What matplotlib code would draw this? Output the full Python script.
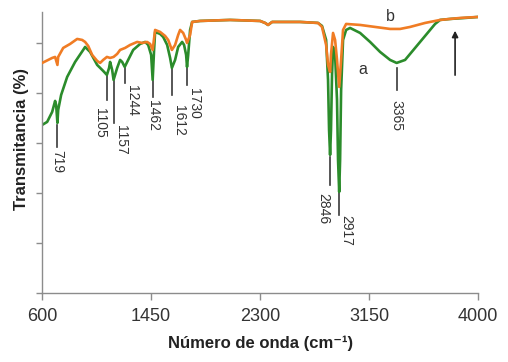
import matplotlib
matplotlib.use("Agg")
import matplotlib.pyplot as plt
import numpy as np

plt.rcParams['font.family'] = ['Liberation Sans', 'DejaVu Sans']

# curve a (green)
wn_a = [600, 639, 678, 701, 709, 719, 725, 748, 795, 857, 920, 935, 974, 1029,
        1076, 1105, 1122, 1130, 1146, 1157, 1185, 1208, 1224, 1244, 1263, 1310,
        1364, 1403, 1427, 1450, 1462, 1473, 1481, 1520, 1544, 1575, 1598, 1612,
        1637, 1661, 1692, 1707, 1723, 1730, 1739, 1754, 1770, 1832, 2066, 2300,
        2339, 2362, 2394, 2612, 2752, 2783, 2815, 2830, 2838, 2846, 2853, 2861,
        2869, 2885, 2900, 2908, 2917, 2924, 2932, 2947, 2971, 3002, 3080, 3158,
        3236, 3314, 3365, 3431, 3509, 3587, 3665, 3704, 3782, 3899, 4000]
t_a = [67.2, 68.4, 72.4, 76.8, 75.2, 68.0, 73.2, 79.2, 86.4, 92.4, 97.2, 98.4,
       96.4, 91.2, 88.8, 87.2, 90.0, 92.4, 89.2, 85.2, 90.0, 93.2, 92.4, 90.4,
       92.4, 97.2, 99.6, 100.4, 99.2, 95.2, 85.2, 97.2, 104.4, 103.6, 102.4,
       99.2, 94.0, 90.0, 93.2, 98.4, 100.4, 99.2, 95.2, 90.4, 95.2, 105.2, 108.4,
       108.8, 109.2, 108.8, 108.0, 107.2, 108.4, 108.4, 108.0, 106.8, 101.2,
       85.2, 65.2, 55.2, 65.2, 87.2, 98.4, 95.2, 77.2, 53.2, 40.4, 53.2, 81.2,
       101.2, 105.2, 106.0, 104.0, 100.4, 96.4, 93.2, 92.0, 93.2, 98.0, 102.8,
       107.6, 109.2, 109.6, 110.0, 110.4]

# curve b (orange)
wn_b = [600, 647, 678, 701, 719, 725, 764, 818, 873, 912, 935, 959, 990, 1029,
        1052, 1076, 1105, 1130, 1157, 1185, 1208, 1247, 1286, 1341, 1380, 1419,
        1442, 1462, 1481, 1520, 1559, 1583, 1612, 1637, 1661, 1676, 1700, 1723,
        1730, 1754, 1770, 1832, 2066, 2300, 2339, 2362, 2394, 2612, 2752, 2783,
        2815, 2830, 2846, 2853, 2869, 2885, 2900, 2917, 2932, 2947, 2971, 3080,
        3197, 3314, 3392, 3470, 3587, 3704, 3860, 4000]
t_b = [92.0, 93.2, 94.0, 94.4, 91.2, 94.4, 98.0, 99.6, 101.6, 101.2, 100.4,
       98.8, 95.2, 92.8, 92.0, 93.2, 94.4, 94.0, 94.4, 95.6, 97.2, 98.0, 99.2,
       100.4, 100.0, 100.4, 99.6, 97.2, 105.2, 104.4, 102.8, 101.2, 97.2, 99.2,
       103.2, 105.2, 104.0, 101.2, 100.0, 103.2, 108.4, 108.8, 109.2, 108.8,
       108.0, 107.2, 108.4, 108.4, 108.0, 106.4, 99.2, 91.2, 88.4, 95.2, 104.0,
       101.2, 93.2, 82.4, 93.2, 105.2, 107.6, 107.2, 106.4, 105.6, 105.6, 106.4,
       108.0, 109.2, 110.0, 110.4]

# peak labels
peaks = [719, 1105, 1157, 1244, 1462, 1612, 1730, 2846, 2917, 3365]
line_top = [67.2, 86.8, 84.8, 90.0, 84.8, 89.6, 90.0, 54.4, 40.4, 90.0]
line_bot = [58.4, 77.2, 68.0, 84.0, 78.4, 79.2, 83.2, 43.2, 31.2, 81.2]
text_top = [57.0, 74.0, 67.0, 83.0, 77.0, 75.0, 82.0, 40.0, 31.0, 77.0]
text_ha = ['center', 'right', 'left', 'left', 'center', 'left', 'left',
           'right', 'left', 'center']

green = '#2b8c2b'
orange = '#f07c24'
grey = '#8c8c8c'

fig = plt.figure(figsize=(5.08, 3.62), dpi=100)
ax = fig.add_axes([0.083, 0.191, 0.858, 0.776])

ax.plot(wn_a, t_a, color=green, lw=1.9, zorder=2)
ax.plot(wn_b, t_b, color=orange, lw=1.9, zorder=3)

for p, y0, y1, ty, ha in zip(peaks, line_top, line_bot, text_top, text_ha):
    ax.plot([p, p], [y0, y1], color='#3a3a3a', lw=1.2, zorder=1)
    ax.text(p, ty, str(p), rotation=270, ha=ha, va='top', fontsize=10,
            color='#333333')

ax.text(3103, 89.2, 'a', fontsize=11.5, color='#333333', ha='center', va='center')
ax.text(3314, 110.4, 'b', fontsize=11.5, color='#333333', ha='center', va='center')
ax.annotate('', xy=(3821, 106), xytext=(3821, 86),
            arrowprops=dict(arrowstyle='-|>', color='#222222', lw=1.2,
                            mutation_scale=9))

ax.set_xlim(600, 4000)
ax.set_ylim(0, 112.4)
ax.set_xticks([600, 1450, 2300, 3150, 4000])
ax.set_yticks([0, 20, 40, 60, 80, 100])
ax.set_yticklabels([])
ax.tick_params(axis='x', labelsize=13, colors=grey, labelcolor='#333333',
               length=5, width=1, pad=6)
ax.tick_params(axis='y', colors=grey, length=4, width=1)
for s in ['top', 'right']:
    ax.spines[s].set_visible(False)
for s in ['left', 'bottom']:
    ax.spines[s].set_color(grey)
    ax.spines[s].set_linewidth(1)

fig.text(0.512, 0.052, 'Número de onda (cm⁻¹)', fontsize=12, fontweight='bold',
         ha='center', va='center', color='#222222')
fig.text(0.043, 0.615, 'Transmitancia (%)', fontsize=12, fontweight='bold',
         rotation=90, ha='center', va='center', color='#222222')

fig.savefig('out.png', dpi=100)
